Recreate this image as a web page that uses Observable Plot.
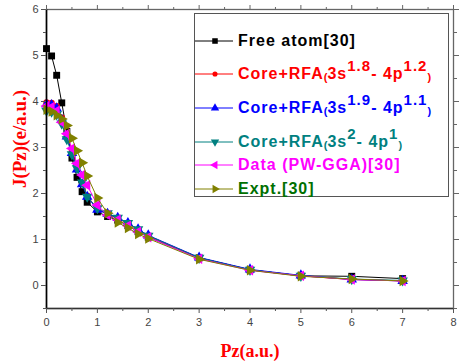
<!DOCTYPE html>
<html>
<head>
<meta charset="utf-8">
<script src="https://cdn.jsdelivr.net/npm/d3@7"></script>
<script src="https://cdn.jsdelivr.net/npm/@observablehq/plot@0.6"></script>
<style>
  body { margin: 0; background: #fff; }
  #wrap { position: relative; width: 464px; height: 362px; overflow: hidden; }
  .ttl { position: absolute; font-family: "Liberation Serif", "Times New Roman", serif; font-weight: bold; color: #ff0000; white-space: nowrap; }
  #legend { position: absolute; left: 194px; top: 13px; width: 255px; height: 184px; border: 1px solid #555; box-sizing: border-box; background: #fff; }
  .row { position: absolute; left: 0; height: 20px; white-space: nowrap; font-family: Arial, "Liberation Sans", sans-serif; font-weight: bold; font-size: 16px; letter-spacing: 1px; }
  .row svg { position: absolute; left: 0; top: 0; }
  .row .lab { position: absolute; left: 43px; top: 0; line-height: 20px; }
  .row .sup { position: relative; top: -8px; font-size: 15px; }
  .row .par { font-size: 11px; position: relative; top: 2px; letter-spacing: 0; }
</style>
</head>
<body>
<div id="wrap"></div>
<script>
const pz = [0, 0.1, 0.2, 0.3, 0.4, 0.5, 0.6, 0.7, 0.8, 1.0, 1.2, 1.4, 1.6, 1.8, 2.0, 3, 4, 5, 6, 7];
const freeAtom = [5.15, 4.99, 4.57, 3.97, 3.35, 2.77, 2.35, 2.04, 1.81, 1.60, 1.50, 1.42, 1.30, 1.17, 1.05, 0.60, 0.34, 0.21, 0.20, 0.15];
const rfa1 = [3.98, 3.97, 3.90, 3.65, 3.28, 2.92, 2.55, 2.22, 1.95, 1.66, 1.55, 1.46, 1.35, 1.21, 1.08, 0.60, 0.34, 0.21, 0.13, 0.10];
const rfa2 = [3.94, 3.92, 3.85, 3.60, 3.24, 2.88, 2.52, 2.20, 1.93, 1.65, 1.56, 1.47, 1.36, 1.22, 1.09, 0.61, 0.35, 0.22, 0.13, 0.10];
const rfa3 = [3.80, 3.78, 3.72, 3.52, 3.18, 2.85, 2.55, 2.24, 1.93, 1.68, 1.57, 1.47, 1.36, 1.22, 1.08, 0.60, 0.34, 0.21, 0.14, 0.11];
const pwgga = [3.90, 3.88, 3.80, 3.55, 3.30, 2.98, 2.65, 2.40, 2.18, 1.75, 1.53, 1.43, 1.30, 1.17, 1.05, 0.58, 0.33, 0.21, 0.13, 0.10];
const expt = [3.82, 3.78, 3.70, 3.62, 3.48, 3.20, 2.93, 2.67, 2.38, 1.90, 1.57, 1.37, 1.25, 1.12, 1.02, 0.57, 0.33, 0.20, 0.14, 0.10];

const xTicks = [0, 1, 2, 3, 4, 5, 6, 7, 8];
const yTicks = [0, 1, 2, 3, 4, 5, 6];

// triangle symbol rotated by angle (degrees); 0 = pointing up
function triangle(angle) {
  const a = angle * Math.PI / 180;
  return {
    draw(ctx, size) {
      const y = -Math.sqrt(size / (Math.sqrt(3) * 3));
      const pts = [[0, y * 2], [-Math.sqrt(3) * y, -y], [Math.sqrt(3) * y, -y]];
      pts.forEach(([px, py], i) => {
        const rx = px * Math.cos(a) - py * Math.sin(a);
        const ry = px * Math.sin(a) + py * Math.cos(a);
        if (i === 0) ctx.moveTo(rx, ry); else ctx.lineTo(rx, ry);
      });
      ctx.closePath();
    }
  };
}

const series = [
  {name: "free", values: freeAtom, color: "#000000", symbol: d3.symbolSquare, r: 3.9},
  {name: "rfa1", values: rfa1, color: "#ff0000", symbol: d3.symbolCircle, r: 3.2},
  {name: "rfa2", values: rfa2, color: "#0000ff", symbol: triangle(0), r: 3.9},
  {name: "rfa3", values: rfa3, color: "#008080", symbol: triangle(180), r: 3.9},
  {name: "pwgga", values: pwgga, color: "#ff00ff", symbol: triangle(-90), r: 3.9},
  {name: "expt", values: expt, color: "#808000", symbol: triangle(90), r: 3.9}
];

const marks = [];
marks.push(Plot.frame({stroke: "#666", strokeWidth: 1.3}));
for (const s of series) {
  const rows = pz.map((x, i) => ({x, y: s.values[i]}));
  marks.push(Plot.line(rows, {x: "x", y: "y", stroke: s.color, strokeWidth: 1}));
  marks.push(Plot.dot(rows, {x: "x", y: "y", fill: s.color, stroke: "none", symbol: () => s.symbol, r: s.r}));
}
marks.push(
  Plot.ruleX([0], {stroke: "#000", strokeWidth: 1.6}),
  Plot.ruleY([-0.5], {stroke: "#333", strokeWidth: 1.6}),
  Plot.axisX(xTicks, {anchor: "bottom", tickSize: 5, tickPadding: 5, label: null, stroke: "#555", fill: "#444"}),
  Plot.axisX(d3.range(0.5, 8, 1), {anchor: "bottom", tickSize: 3, tickFormat: () => "", label: null, stroke: "#555"}),
  Plot.axisX(xTicks, {anchor: "top", tickSize: 5, tickFormat: () => "", label: null, stroke: "#666"}),
  Plot.axisX(d3.range(0.5, 8, 1), {anchor: "top", tickSize: 3, tickFormat: () => "", label: null, stroke: "#666"}),
  Plot.axisY(yTicks, {anchor: "left", tickSize: 5, tickPadding: 3, label: null, stroke: "#555", fill: "#444"}),
  Plot.axisY(d3.range(-0.5, 6, 1), {anchor: "left", tickSize: 3, tickFormat: () => "", label: null, stroke: "#555"}),
  Plot.axisY(yTicks, {anchor: "right", tickSize: 5, tickFormat: () => "", label: null, stroke: "#666"}),
  Plot.axisY(d3.range(-0.5, 6, 1), {anchor: "right", tickSize: 3, tickFormat: () => "", label: null, stroke: "#666"})
);

const chart = Plot.plot({
  width: 464,
  height: 362,
  marginLeft: 46,
  marginRight: 11,
  marginTop: 9,
  marginBottom: 54,
  x: {domain: [0, 8]},
  y: {domain: [-0.5, 6]},
  style: {fontFamily: "Arial, 'Liberation Sans', sans-serif", fontSize: "11px", background: "#fff", overflow: "visible"},
  marks
});

const wrap = document.getElementById("wrap");
wrap.appendChild(chart);

// axis titles
const yt = document.createElement("div");
yt.className = "ttl";
yt.style.fontSize = "19px";
yt.style.left = "20px";
yt.style.top = "139px";
yt.style.transform = "translate(-50%, -50%) rotate(-90deg)";
yt.textContent = "J(Pz)(e/a.u.)";
wrap.appendChild(yt);

const xt = document.createElement("div");
xt.className = "ttl";
xt.style.fontSize = "18px";
xt.style.left = "250px";
xt.style.top = "351px";
xt.style.transform = "translate(-50%, -50%)";
xt.textContent = "Pz(a.u.)";
wrap.appendChild(xt);

// legend
const legendLabels = [
  {html: "Free atom[30]", text: "#000000", top: 40},
  {html: 'Core+RFA<span class="par">(</span>3s<span class="sup">1.8</span>- 4p<span class="sup">1.2</span><span class="par">)</span>', text: "#ff0000", top: 73},
  {html: 'Core+RFA<span class="par">(</span>3s<span class="sup">1.9</span>- 4p<span class="sup">1.1</span><span class="par">)</span>', text: "#0000ff", top: 107},
  {html: 'Core+RFA<span class="par">(</span>3s<span class="sup">2</span>- 4p<span class="sup">1</span><span class="par">)</span>', text: "#008080", top: 141},
  {html: "Data (PW-GGA)[30]", text: "#ff00ff", top: 164},
  {html: "Expt.[30]", text: "#007000", top: 188}
];
const legend = document.createElement("div");
legend.id = "legend";
wrap.appendChild(legend);
series.forEach((s, i) => {
  const L = legendLabels[i];
  const row = document.createElement("div");
  row.className = "row";
  row.style.top = (L.top - 13 - 10) + "px";
  const size = Math.PI * (s.r * 0.8) ** 2;
  row.innerHTML = `<svg width="40" height="20"><line x1="0" x2="38" y1="10" y2="10" stroke="${s.color}" stroke-width="1"/><path transform="translate(20,10)" d="${d3.symbol(s.symbol, size)()}" fill="${s.color}"/></svg><span class="lab" style="color:${L.text}">${L.html}</span>`;
  legend.appendChild(row);
});
</script>
</body>
</html>
